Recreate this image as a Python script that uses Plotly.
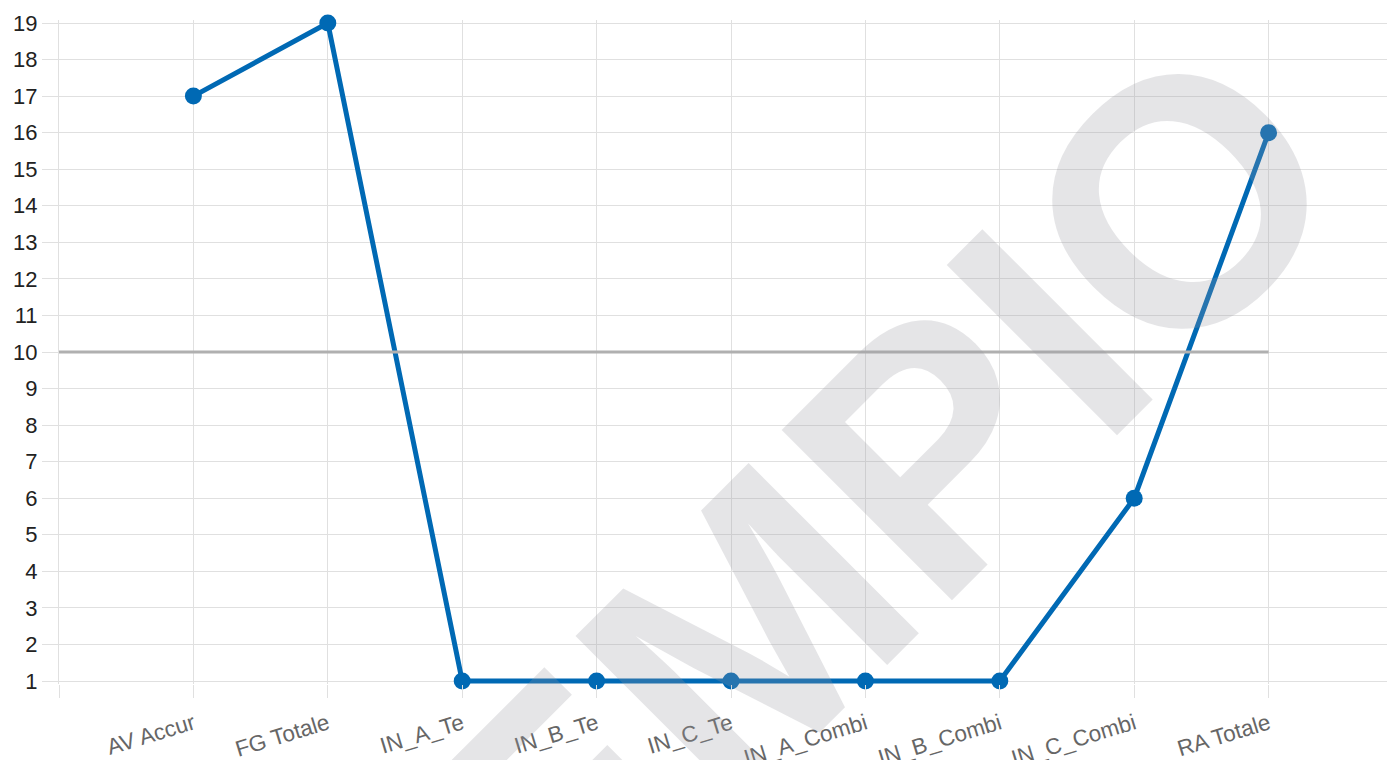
import plotly.graph_objects as go

categories = ["AV Accur", "FG Totale", "IN_A_Te", "IN_B_Te", "IN_C_Te",
              "IN_A_Combi", "IN_B_Combi", "IN_C_Combi", "RA Totale"]
values = [17, 19, 1, 1, 1, 1, 1, 6, 16]
threshold = 10
y_ticks = list(range(1, 20))
watermark = "ESEMPIO"

xs = list(range(len(categories)))
grid = "#e0e0e0"
blue = "#0069b4"
pad = 0.082  # small headroom so the thick line is not clipped at 1 and 19

fig = go.Figure()
fig.add_trace(go.Scatter(
    x=xs, y=values, mode="lines+markers",
    line=dict(color=blue, width=5),
    marker=dict(color=blue, size=17),
    cliponaxis=False, showlegend=False, hoverinfo="skip",
))

fig.add_shape(type="line", xref="x", yref="y",
              x0=-1, x1=len(categories) - 1, y0=threshold, y1=threshold,
              line=dict(color="#b0b0b0", width=3), layer="above")

fig.add_annotation(
    text="<b>" + watermark + "</b>", xref="paper", yref="paper",
    x=0.4859, y=0.0226, xanchor="center", yanchor="middle",
    showarrow=False, textangle=-45,
    font=dict(family="Liberation Sans, Arial, sans-serif", size=350,
              color="rgba(150,153,160,0.25)"),
)

fig.update_layout(
    width=1395, height=760,
    margin=dict(l=51, r=0, t=12, b=84),
    paper_bgcolor="white", plot_bgcolor="white",
    font=dict(family="Liberation Sans, Arial, sans-serif"),
    xaxis=dict(
        range=[-1, 9], tickmode="array",
        tickvals=[-1] + xs, ticktext=[""] + categories,
        tickangle=-17, ticks="outside", ticklen=13, tickcolor=grid,
        ticklabelstandoff=4,
        showgrid=True, gridcolor=grid, gridwidth=1,
        showline=False, zeroline=False, automargin=False,
        tickfont=dict(size=22.5, color="#666666"),
    ),
    yaxis=dict(
        range=[1 - pad, 19 + pad], tickmode="array", tickvals=y_ticks,
        ticks="outside", ticklen=16, tickcolor=grid,
        showgrid=True, gridcolor=grid, gridwidth=1,
        showline=True, linecolor=grid, linewidth=1, zeroline=False,
        automargin=False,
        tickfont=dict(size=22, color="#222222"),
    ),
)

fig.write_html("out.html")
